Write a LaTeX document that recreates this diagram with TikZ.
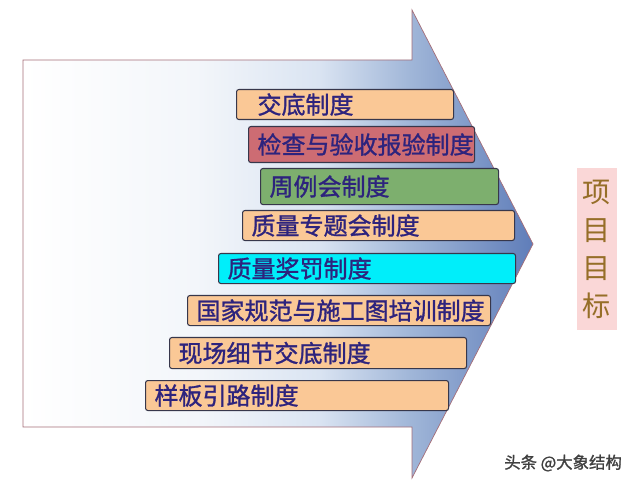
\documentclass[tikz,border=0pt]{standalone}
\usepackage{fontspec}
\newfontfamily\cjk{Noto Sans CJK SC}
\newfontfamily\cjkheavy[FakeBold=1.2]{Noto Sans CJK SC}
\definecolor{peach}{RGB}{250,200,150}
\definecolor{rose}{RGB}{205,108,115}
\definecolor{leaf}{RGB}{125,175,110}
\definecolor{aqua}{RGB}{0,238,250}
\definecolor{zdline}{RGB}{55,55,75}
\definecolor{zdtext}{RGB}{45,35,125}
\definecolor{goalpink}{RGB}{250,215,215}
\definecolor{goalbrown}{RGB}{150,110,40}
\definecolor{arrowline}{RGB}{165,110,120}
\definecolor{arrowA}{RGB}{243,246,250}
\definecolor{arrowB}{RGB}{218,228,242}
\definecolor{arrowC}{RGB}{160,182,216}
\definecolor{arrowD}{RGB}{95,125,185}
\pgfdeclarehorizontalshading{arrowshade}{100bp}{color(0bp)=(white); color(25bp)=(white);
  color(42bp)=(arrowA); color(54bp)=(arrowB); color(63bp)=(arrowC); color(75bp)=(arrowD); color(100bp)=(arrowD)}

\begin{document}
\begin{tikzpicture}[x=0.03cm,y=-0.03cm,
    zd/.style={draw=zdline,line width=0.9pt,rounded corners=2pt,anchor=north west,align=left,
      inner xsep=0.27cm,inner ysep=0pt,text=zdtext,font=\cjkheavy\fontsize{20.5}{24}\selectfont},
    goal/.style={fill=goalpink,text=goalbrown,minimum width=1.2cm,minimum height=4.86cm,
      align=center,font=\cjk\fontsize{24}{32.4}\selectfont},
    wm/.style={text=black!75,font=\cjkheavy\fontsize{14}{16}\selectfont}]
    \useasboundingbox (0,0) rectangle (640,485);
    % big arrow
    \draw[arrowline,line width=0.6pt,shading=arrowshade]
        (23,60) -- (412,60) -- (412,10) -- (533,244) -- (412,478) -- (412,427) -- (23,427) -- cycle;
    % rules
    \node[zd,fill=peach,inner xsep=0.63cm,text width=5.25cm,minimum height=0.9cm] (jiaodi) at (236,89) {交底制度};
    \node[zd,fill=rose,text width=6.24cm,minimum height=1.08cm] (jiancha) at (248,126) {检查与验收报验制度};
    \node[zd,fill=leaf,text width=6.6cm,minimum height=1.08cm] (zhouli) at (260,168) {周例会制度};
    \node[zd,fill=peach,text width=7.62cm,minimum height=0.9cm] (zhuanti) at (242,210) {质量专题会制度};
    \node[zd,fill=aqua,text width=8.37cm,minimum height=0.9cm] (jiangfa) at (218,253) {质量奖罚制度};
    \node[zd,fill=peach,text width=8.55cm,minimum height=0.9cm] (peixun) at (187,295) {国家规范与施工图培训制度};
    \node[zd,fill=peach,text width=8.37cm,minimum height=0.93cm] (xianchang) at (169,337) {现场细节交底制度};
    \node[zd,fill=peach,text width=8.55cm,minimum height=0.9cm] (yangban) at (145,380) {样板引路制度};
    % target
    \node[goal] (mubiao) at (597,249) {项\\目\\目\\标};
    \node[wm,anchor=east] (toutiao) at (626,463) {头条 @大象结构};
\end{tikzpicture}
\end{document}
